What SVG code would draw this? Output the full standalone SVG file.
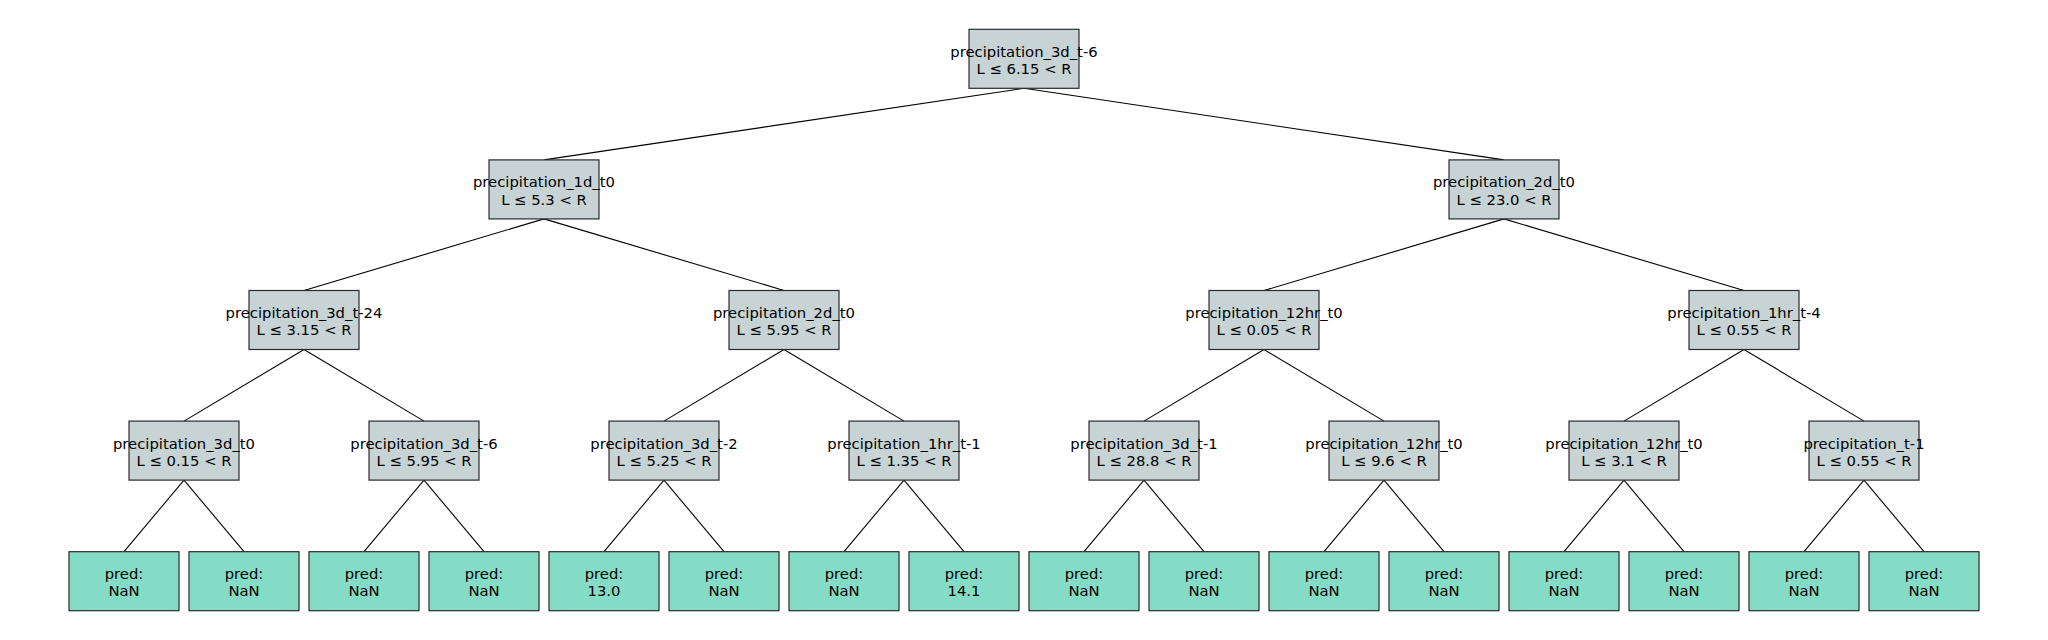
<svg xmlns="http://www.w3.org/2000/svg" width="2048" height="640" viewBox="0 0 2048 640">
<style>
rect.n{fill:#c7d3d4;stroke:#2b2b2b;stroke-width:1.2}
rect.l{fill:#84dcc6;stroke:#2b2b2b;stroke-width:1.2}
text{font-family:"DejaVu Sans",sans-serif;font-size:14.8px;fill:#000000;text-anchor:middle}
#edges line{stroke:#000000;stroke-width:1.1}
</style>
<rect width="2048" height="640" fill="#ffffff"/>
<g id="edges">
<line x1="1024" y1="88.3" x2="544" y2="159.9"/>
<line x1="1024" y1="88.3" x2="1504" y2="159.9"/>
<line x1="544" y1="218.9" x2="304" y2="290.5"/>
<line x1="544" y1="218.9" x2="784" y2="290.5"/>
<line x1="1504" y1="218.9" x2="1264" y2="290.5"/>
<line x1="1504" y1="218.9" x2="1744" y2="290.5"/>
<line x1="304" y1="349.5" x2="184" y2="421.1"/>
<line x1="304" y1="349.5" x2="424" y2="421.1"/>
<line x1="784" y1="349.5" x2="664" y2="421.1"/>
<line x1="784" y1="349.5" x2="904" y2="421.1"/>
<line x1="1264" y1="349.5" x2="1144" y2="421.1"/>
<line x1="1264" y1="349.5" x2="1384" y2="421.1"/>
<line x1="1744" y1="349.5" x2="1624" y2="421.1"/>
<line x1="1744" y1="349.5" x2="1864" y2="421.1"/>
<line x1="184" y1="480.1" x2="124" y2="551.7"/>
<line x1="184" y1="480.1" x2="244" y2="551.7"/>
<line x1="424" y1="480.1" x2="364" y2="551.7"/>
<line x1="424" y1="480.1" x2="484" y2="551.7"/>
<line x1="664" y1="480.1" x2="604" y2="551.7"/>
<line x1="664" y1="480.1" x2="724" y2="551.7"/>
<line x1="904" y1="480.1" x2="844" y2="551.7"/>
<line x1="904" y1="480.1" x2="964" y2="551.7"/>
<line x1="1144" y1="480.1" x2="1084" y2="551.7"/>
<line x1="1144" y1="480.1" x2="1204" y2="551.7"/>
<line x1="1384" y1="480.1" x2="1324" y2="551.7"/>
<line x1="1384" y1="480.1" x2="1444" y2="551.7"/>
<line x1="1624" y1="480.1" x2="1564" y2="551.7"/>
<line x1="1624" y1="480.1" x2="1684" y2="551.7"/>
<line x1="1864" y1="480.1" x2="1804" y2="551.7"/>
<line x1="1864" y1="480.1" x2="1924" y2="551.7"/>
</g>
<g id="n0"><rect class="n" x="969" y="29.3" width="110" height="59"/><text x="1024" y="56.7">precipitation_3d_t-6</text><text x="1024" y="74">L ≤ 6.15 &lt; R</text></g>
<g id="n1"><rect class="n" x="489" y="159.9" width="110" height="59"/><text x="544" y="187.3">precipitation_1d_t0</text><text x="544" y="204.6">L ≤ 5.3 &lt; R</text></g>
<g id="n2"><rect class="n" x="1449" y="159.9" width="110" height="59"/><text x="1504" y="187.3">precipitation_2d_t0</text><text x="1504" y="204.6">L ≤ 23.0 &lt; R</text></g>
<g id="n3"><rect class="n" x="249" y="290.5" width="110" height="59"/><text x="304" y="317.9">precipitation_3d_t-24</text><text x="304" y="335.2">L ≤ 3.15 &lt; R</text></g>
<g id="n4"><rect class="n" x="729" y="290.5" width="110" height="59"/><text x="784" y="317.9">precipitation_2d_t0</text><text x="784" y="335.2">L ≤ 5.95 &lt; R</text></g>
<g id="n5"><rect class="n" x="1209" y="290.5" width="110" height="59"/><text x="1264" y="317.9">precipitation_12hr_t0</text><text x="1264" y="335.2">L ≤ 0.05 &lt; R</text></g>
<g id="n6"><rect class="n" x="1689" y="290.5" width="110" height="59"/><text x="1744" y="317.9">precipitation_1hr_t-4</text><text x="1744" y="335.2">L ≤ 0.55 &lt; R</text></g>
<g id="n7"><rect class="n" x="129" y="421.1" width="110" height="59"/><text x="184" y="448.5">precipitation_3d_t0</text><text x="184" y="465.8">L ≤ 0.15 &lt; R</text></g>
<g id="n8"><rect class="n" x="369" y="421.1" width="110" height="59"/><text x="424" y="448.5">precipitation_3d_t-6</text><text x="424" y="465.8">L ≤ 5.95 &lt; R</text></g>
<g id="n9"><rect class="n" x="609" y="421.1" width="110" height="59"/><text x="664" y="448.5">precipitation_3d_t-2</text><text x="664" y="465.8">L ≤ 5.25 &lt; R</text></g>
<g id="n10"><rect class="n" x="849" y="421.1" width="110" height="59"/><text x="904" y="448.5">precipitation_1hr_t-1</text><text x="904" y="465.8">L ≤ 1.35 &lt; R</text></g>
<g id="n11"><rect class="n" x="1089" y="421.1" width="110" height="59"/><text x="1144" y="448.5">precipitation_3d_t-1</text><text x="1144" y="465.8">L ≤ 28.8 &lt; R</text></g>
<g id="n12"><rect class="n" x="1329" y="421.1" width="110" height="59"/><text x="1384" y="448.5">precipitation_12hr_t0</text><text x="1384" y="465.8">L ≤ 9.6 &lt; R</text></g>
<g id="n13"><rect class="n" x="1569" y="421.1" width="110" height="59"/><text x="1624" y="448.5">precipitation_12hr_t0</text><text x="1624" y="465.8">L ≤ 3.1 &lt; R</text></g>
<g id="n14"><rect class="n" x="1809" y="421.1" width="110" height="59"/><text x="1864" y="448.5">precipitation_t-1</text><text x="1864" y="465.8">L ≤ 0.55 &lt; R</text></g>
<g id="leaf0"><rect class="l" x="69" y="551.7" width="110" height="59"/><text x="124" y="579.1">pred:</text><text x="124" y="596.4">NaN</text></g>
<g id="leaf1"><rect class="l" x="189" y="551.7" width="110" height="59"/><text x="244" y="579.1">pred:</text><text x="244" y="596.4">NaN</text></g>
<g id="leaf2"><rect class="l" x="309" y="551.7" width="110" height="59"/><text x="364" y="579.1">pred:</text><text x="364" y="596.4">NaN</text></g>
<g id="leaf3"><rect class="l" x="429" y="551.7" width="110" height="59"/><text x="484" y="579.1">pred:</text><text x="484" y="596.4">NaN</text></g>
<g id="leaf4"><rect class="l" x="549" y="551.7" width="110" height="59"/><text x="604" y="579.1">pred:</text><text x="604" y="596.4">13.0</text></g>
<g id="leaf5"><rect class="l" x="669" y="551.7" width="110" height="59"/><text x="724" y="579.1">pred:</text><text x="724" y="596.4">NaN</text></g>
<g id="leaf6"><rect class="l" x="789" y="551.7" width="110" height="59"/><text x="844" y="579.1">pred:</text><text x="844" y="596.4">NaN</text></g>
<g id="leaf7"><rect class="l" x="909" y="551.7" width="110" height="59"/><text x="964" y="579.1">pred:</text><text x="964" y="596.4">14.1</text></g>
<g id="leaf8"><rect class="l" x="1029" y="551.7" width="110" height="59"/><text x="1084" y="579.1">pred:</text><text x="1084" y="596.4">NaN</text></g>
<g id="leaf9"><rect class="l" x="1149" y="551.7" width="110" height="59"/><text x="1204" y="579.1">pred:</text><text x="1204" y="596.4">NaN</text></g>
<g id="leaf10"><rect class="l" x="1269" y="551.7" width="110" height="59"/><text x="1324" y="579.1">pred:</text><text x="1324" y="596.4">NaN</text></g>
<g id="leaf11"><rect class="l" x="1389" y="551.7" width="110" height="59"/><text x="1444" y="579.1">pred:</text><text x="1444" y="596.4">NaN</text></g>
<g id="leaf12"><rect class="l" x="1509" y="551.7" width="110" height="59"/><text x="1564" y="579.1">pred:</text><text x="1564" y="596.4">NaN</text></g>
<g id="leaf13"><rect class="l" x="1629" y="551.7" width="110" height="59"/><text x="1684" y="579.1">pred:</text><text x="1684" y="596.4">NaN</text></g>
<g id="leaf14"><rect class="l" x="1749" y="551.7" width="110" height="59"/><text x="1804" y="579.1">pred:</text><text x="1804" y="596.4">NaN</text></g>
<g id="leaf15"><rect class="l" x="1869" y="551.7" width="110" height="59"/><text x="1924" y="579.1">pred:</text><text x="1924" y="596.4">NaN</text></g>
</svg>
